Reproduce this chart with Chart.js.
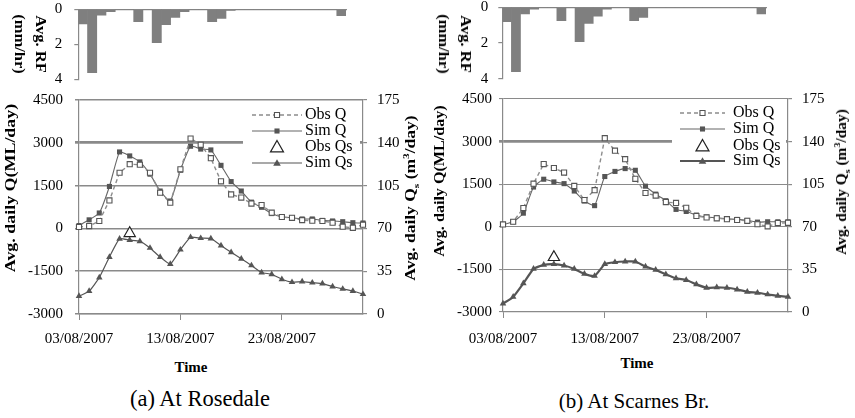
<!DOCTYPE html>
<html><head><meta charset="utf-8">
<script src="https://cdn.jsdelivr.net/npm/chart.js@4.4.0/dist/chart.umd.min.js"></script>
<style>
html,body{margin:0;padding:0;background:#fff;}
#stage{position:relative;width:855px;height:418px;overflow:hidden;font-family:'Liberation Serif','Times New Roman',serif;color:#000;}
canvas{position:absolute;}
.t{position:absolute;white-space:nowrap;font-weight:bold;line-height:1;}
.cap{position:absolute;white-space:nowrap;transform:translate(-50%,-50%);}
sub,sup{font-size:65%;line-height:0;}
</style>
</head><body>
<div id="stage">
  <canvas id="rainA" width="350" height="125" style="left:0;top:-20px;width:350px;height:125px"></canvas>
  <canvas id="rainB" width="340" height="125" style="left:430px;top:-20px;width:340px;height:125px"></canvas>
  <canvas id="mainA" width="430" height="276" style="left:0;top:78px;width:430px;height:276px"></canvas>
  <canvas id="mainB" width="425" height="275" style="left:430px;top:77px;width:425px;height:275px"></canvas>

  <div class="t" style="left:30px;top:44px;font-size:15px;line-height:21px;text-align:center;transform:translate(-50%,-50%) rotate(90deg) scaleX(1.1)">Avg. RF<br>(mm/hr)</div>
  <div class="t" style="left:455px;top:44px;font-size:15px;line-height:22px;text-align:center;transform:translate(-50%,-50%) rotate(90deg) scaleX(1.1)">Avg. RF<br>(mm/hr)</div>

  <div class="t" style="left:11px;top:188px;font-size:14px;transform:translate(-50%,-50%) rotate(-90deg) scaleX(1.28)">Avg. daily Q(ML/day)</div>
  <div class="t" style="left:411px;top:198px;font-size:14px;transform:translate(-50%,-50%) rotate(-90deg) scaleX(1.25)">Avg. daily Q<sub>s</sub> (m<sup>3</sup>/day)</div>
  <div class="t" style="left:440px;top:181px;font-size:14px;transform:translate(-50%,-50%) rotate(-90deg) scaleX(1.15)">Avg. daily Q(ML/day)</div>
  <div class="t" style="left:842px;top:182px;font-size:14px;transform:translate(-50%,-50%) rotate(-90deg) scaleX(1.1)">Avg. daily Q<sub>s</sub> (m<sup>3</sup>/day)</div>

  <div class="t" style="left:191px;top:367px;font-size:15px;transform:translate(-50%,-50%)">Time</div>
  <div class="t" style="left:637px;top:363px;font-size:15px;transform:translate(-50%,-50%)">Time</div>

  <div class="cap" style="left:200px;top:399px;font-size:22.5px">(a) At Rosedale</div>
  <div class="cap" style="left:634px;top:401px;font-size:21px">(b) At Scarnes Br.</div>
</div>
<script>
// ---- categories & tick labels ----
const dates = ['03/08/2007','04/08/2007','05/08/2007','06/08/2007','07/08/2007','08/08/2007','09/08/2007','10/08/2007','11/08/2007','12/08/2007','13/08/2007','14/08/2007','15/08/2007','16/08/2007','17/08/2007','18/08/2007','19/08/2007','20/08/2007','21/08/2007','22/08/2007','23/08/2007','24/08/2007','25/08/2007','26/08/2007','27/08/2007','28/08/2007','29/08/2007','30/08/2007','31/08/2007'];
const xTickLabels = ['03/08/2007','13/08/2007','23/08/2007'];
const qTicks = [-3000,-1500,0,1500,3000,4500];
const qsTicks = [0,35,70,105,140,175];
const rfTicks = [0,2,4];
const legendLabels = ['Obs Q','Sim Q','Obs Qs','Sim Qs'];

// ---- (a) Rosedale ----
const rainRosedale = [0.84,3.62,0.34,0.13,0,0,0.71,0,1.9,0.88,0.46,0.13,0,0,0.71,0.52,0.06,0,0,0,0,0,0,0,0,0,0,0,0.36];
const obsQRosedale = [50,80,260,980,1950,2250,2230,1950,1250,900,2070,3150,2930,2460,1650,1190,1080,870,820,550,400,370,290,270,260,200,60,20,130];
const simQRosedale = [100,300,540,1470,2680,2540,2330,1900,1310,960,2040,2880,2780,2750,2210,1640,1310,920,740,520,400,375,330,330,280,260,235,200,190];
const obsQsRosedale = [null,null,null,null,null,66,null,null,null,null,null,null,null,null,null,null,null,null,null,null,null,null,null,null,null,null,null,null,null];
const simQsRosedale = [14.6,18.7,29.8,46.6,61.5,60.4,59.5,54,46.6,40.8,52.6,62.8,62,61.7,56,50.4,45.2,39.7,33.9,32.5,28.4,26,26.5,25.6,24.8,22.5,20.5,18.8,16.2];

// ---- (b) Scarnes Br. ----
const rainScarnes = [0.8,3.6,0.37,0.11,0,0,0.75,0,1.93,0.9,0.49,0.11,0,0,0.75,0.56,0,0,0,0,0,0,0,0,0,0,0,0,0.37];
const obsQScarnes = [83,177,660,1520,2210,2070,1910,1440,940,1290,3120,2680,2380,1690,1190,1100,870,840,670,380,330,300,270,240,210,90,15,130,140];
const simQScarnes = [83,177,480,1400,1675,1580,1520,1260,910,745,1770,1950,2050,1990,1430,1150,920,613,540,413,342,320,283,260,224,165,177,177,177];
const obsQsScarnes = [null,null,null,null,null,45,null,null,null,null,null,null,null,null,null,null,null,null,null,null,null,null,null,null,null,null,null,null,null];
const simQsScarnes = [6.9,12.4,23.5,35.4,38.7,39.3,38.2,35.4,31.3,29.6,39.3,40.9,41.5,41.5,37.3,34.6,31,27.7,26.3,22.7,19.9,20.2,19.9,18.5,16.6,15.8,14.4,13.3,12.5];

const FONT = "'Liberation Serif','Times New Roman',serif";
Chart.defaults.color = '#000';
Chart.defaults.font.family = FONT;
const GRID = '#8a8a8a';

function marker(c, style, x, y, r, fill, stroke, bw) {
  c.beginPath();
  if (style === 'rect') {
    const s = Math.SQRT1_2 * r;
    c.rect(x - s, y - s, 2 * s, 2 * s);
  } else {
    c.moveTo(x, y - r);
    c.lineTo(x + r, y + r * 0.75);
    c.lineTo(x - r, y + r * 0.75);
    c.closePath();
  }
  c.fillStyle = fill; c.fill();
  if (bw > 0) { c.strokeStyle = stroke; c.lineWidth = bw; c.stroke(); }
}

const legendPlugin = {
  id: 'boxLegend',
  afterDraw(chart, args, o) {
    const c = chart.ctx;
    c.save();
    c.fillStyle = '#fff';
    c.fillRect(o.box[0], o.box[1], o.box[2], o.box[3]);
    chart.data.datasets.forEach((ds, i) => {
      const y = o.rows[i];
      if (ds.showLine !== false) {
        c.strokeStyle = ds.borderColor; c.lineWidth = ds.borderWidth;
        c.setLineDash(ds.borderDash || []);
        c.beginPath(); c.moveTo(o.x0, y); c.lineTo(o.x1, y); c.stroke();
        c.setLineDash([]);
      }
      marker(c, ds.pointStyle, (o.x0 + o.x1) / 2, y, ds.pointRadius, ds.pointBackgroundColor, ds.pointBorderColor, ds.pointBorderWidth);
      c.fillStyle = '#000';
      c.font = '16px ' + FONT;
      c.textBaseline = 'middle';
      c.fillText(ds.label, o.tx, y);
    });
    c.restore();
  }
};

function makeMain(id, g, obsQ, simQ, obsQs, simQs) {
  return new Chart(document.getElementById(id), {
    type: 'line',
    data: {
      labels: dates,
      datasets: [
        {label: legendLabels[0], data: obsQ, yAxisID: 'y', borderColor: '#8c8c8c', borderWidth: 1.4, borderDash: [4, 3],
         pointStyle: 'rect', pointRadius: 3.6, pointBackgroundColor: '#fff', pointBorderColor: '#555', pointBorderWidth: 1.1, tension: 0},
        {label: legendLabels[1], data: simQ, yAxisID: 'y', borderColor: '#666', borderWidth: 1.1,
         pointStyle: 'rect', pointRadius: 3.6, pointBackgroundColor: '#555', pointBorderColor: '#555', pointBorderWidth: 0, tension: 0.15},
        {label: legendLabels[2], data: obsQs, yAxisID: 'y1', showLine: false,
         pointStyle: 'triangle', pointRadius: 6.5, pointBackgroundColor: '#fff', pointBorderColor: '#222', pointBorderWidth: 1.2},
        {label: legendLabels[3], data: simQs, yAxisID: 'y1', borderColor: '#555', borderWidth: g.qsW,
         pointStyle: 'triangle', pointRadius: 3.8, pointBackgroundColor: '#555', pointBorderColor: '#555', pointBorderWidth: 0, tension: 0.15}
      ]
    },
    options: {
      responsive: false, animation: false, devicePixelRatio: 1,
      layout: {padding: {top: g.padTop, left: 0, right: 0, bottom: 0}},
      plugins: {legend: {display: false}, tooltip: {enabled: false}, boxLegend: g.legend},
      scales: {
        x: {
          type: 'category',
          grid: {drawOnChartArea: false, drawTicks: true, tickLength: 6, color: GRID, lineWidth: 1},
          border: {display: true, color: GRID, width: 1.2},
          ticks: {autoSkip: false, maxRotation: 0, minRotation: 0, padding: g.xPad, font: {size: 15},
                  callback: (v, i) => xTickLabels.includes(dates[i]) ? dates[i] : null},
          afterFit: s => { s.height = 40; }
        },
        y: {
          position: 'left', min: -3000, max: 4500,
          afterBuildTicks: s => { s.ticks = qTicks.map(v => ({value: v})); },
          ticks: {padding: g.yPad, font: {size: 15}, callback: v => String(v)},
          grid: {color: GRID, tickLength: 4, lineWidth: c => (c.tick && c.tick.value === 3000) ? 2.7 : g.gridW},
          border: {display: true, color: GRID, width: 1.2},
          afterFit: s => { s.width = g.yW; }
        },
        y1: {
          position: 'right', min: 0, max: 175,
          afterBuildTicks: s => { s.ticks = qsTicks.map(v => ({value: v})); },
          ticks: {padding: g.y1Pad, font: {size: 15}, callback: v => String(v)},
          grid: {drawOnChartArea: false, color: GRID, tickLength: 4, lineWidth: 1.2},
          border: {display: true, color: GRID, width: 1.2},
          afterFit: s => { s.width = g.y1W; }
        }
      }
    },
    plugins: [legendPlugin]
  });
}

function makeRain(id, rain, g) {
  return new Chart(document.getElementById(id), {
    type: 'bar',
    data: {labels: dates, datasets: [{label: 'Avg. RF', data: rain, backgroundColor: '#7f7f7f', borderWidth: 0, barPercentage: 1, categoryPercentage: 1}]},
    options: {
      responsive: false, animation: false, devicePixelRatio: 1,
      layout: {padding: {top: g.padTop, bottom: g.padBottom, left: 0, right: g.padRight}},
      plugins: {legend: {display: false}, tooltip: {enabled: false}},
      scales: {
        x: {position: 'top', ticks: {display: false}, grid: {drawOnChartArea: false, drawTicks: false, color: GRID},
            border: {display: true, color: GRID, width: 1.2}, afterFit: s => { s.height = 0; }},
        y: {reverse: true, min: 0, max: 4,
            afterBuildTicks: s => { s.ticks = rfTicks.map(v => ({value: v})); },
            ticks: {padding: g.yPad, font: {size: 15}, callback: v => String(v)},
            grid: {drawOnChartArea: false, color: GRID, tickLength: 4, lineWidth: 1.2},
            border: {display: true, color: GRID, width: 1.2},
            afterFit: s => { s.width = g.yW; }}
      }
    }
  });
}

makeRain('rainA', rainRosedale, {padTop: 29.3, padBottom: 25.7, padRight: 4, yW: 78.3, yPad: 12});
makeRain('rainB', rainScarnes, {padTop: 27.3, padBottom: 26.3, padRight: 4, yW: 72.3, yPad: 10});

makeMain('mainA', {padTop: 22, yW: 79, y1W: 67, yPad: 12, y1Pad: 10, xPad: 10, qsW: 1.2, gridW: 1.5,
  legend: {box: [243, 26, 117, 68], rows: [37, 53, 69, 85], x0: 252, x1: 302, tx: 305}},
  obsQRosedale, simQRosedale, obsQsRosedale, simQsRosedale);
makeMain('mainB', {padTop: 22, yW: 73, y1W: 67, yPad: 7, y1Pad: 10, xPad: 12, qsW: 2.2, gridW: 1.1,
  legend: {box: [242, 27, 114, 68], rows: [36, 52, 69, 84], x0: 250, x1: 295, tx: 303}},
  obsQScarnes, simQScarnes, obsQsScarnes, simQsScarnes);
</script>
</body></html>
